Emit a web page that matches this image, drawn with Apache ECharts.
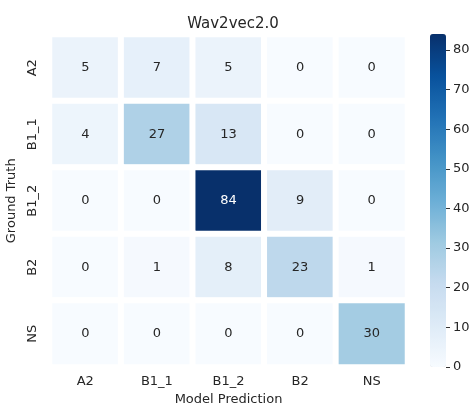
<!DOCTYPE html>
<html><head><meta charset="utf-8">
<script src="https://cdn.jsdelivr.net/npm/echarts@6/dist/echarts.min.js"></script>
<style>html,body{margin:0;padding:0;background:#fff}#c{width:476px;height:403px}</style>
</head><body><div id="c"></div>
<script>
const predCategories = ['A2', 'B1_1', 'B1_2', 'B2', 'NS'];
const truthCategories = ['A2', 'B1_1', 'B1_2', 'B2', 'NS'];
const rowA2   = [5, 7, 5, 0, 0];
const rowB1_1 = [4, 27, 13, 0, 0];
const rowB1_2 = [0, 0, 84, 9, 0];
const rowB2   = [0, 1, 8, 23, 1];
const rowNS   = [0, 0, 0, 0, 30];
const colorbarTicks = [0, 10, 20, 30, 40, 50, 60, 70, 80];
const colorMin = 0, colorMax = 84;

const rows = [rowA2, rowB1_1, rowB1_2, rowB2, rowNS];
const data = [];
rows.forEach((r, yi) => r.forEach((v, xi) => {
  data.push({value: [xi, yi, v], label: {color: v > 60 ? '#ffffff' : '#262626'}});
}));

const FONT = 'DejaVu Sans';
const FS = 13;
const chart = echarts.init(document.getElementById('c'), null, {renderer: 'canvas'});
chart.setOption({
  backgroundColor: '#ffffff',
  animation: false,
  textStyle: {fontFamily: FONT},
  title: {text: 'Wav2vec2.0', left: 228, top: 12, textAlign: 'center',
    textStyle: {fontFamily: FONT, fontSize: 15, fontWeight: 'normal', color: '#262626'}},
  grid: [
    {left: 49.5, top: 34.5, width: 358, height: 332.5, outerBoundsMode: 'none', containLabel: false},
    {left: 430, top: 34, width: 16, height: 333, outerBoundsMode: 'none', containLabel: false}
  ],
  xAxis: [
    {type: 'category', gridIndex: 0, data: predCategories, name: 'Model Prediction',
     nameLocation: 'middle', nameGap: 24,
     nameTextStyle: {fontFamily: FONT, fontSize: FS, color: '#262626'},
     axisLine: {show: false}, splitLine: {show: false},
     axisTick: {alignWithLabel: true, length: 4, lineStyle: {color: '#333'}},
     axisLabel: {fontFamily: FONT, fontSize: FS, color: '#262626', margin: 8}},
    {type: 'value', gridIndex: 1, show: false, min: 0, max: 1,
     axisLine: {show: false, onZero: false}, axisTick: {show: false}, axisLabel: {show: false}, splitLine: {show: false}}
  ],
  yAxis: [
    {type: 'category', gridIndex: 0, data: truthCategories, inverse: true, name: 'Ground Truth',
     nameLocation: 'middle', nameGap: 29, nameRotate: 90,
     nameTextStyle: {fontFamily: FONT, fontSize: FS, color: '#262626'},
     axisLine: {show: false}, splitLine: {show: false},
     axisTick: {alignWithLabel: true, length: 4, lineStyle: {color: '#333'}},
     axisLabel: {fontFamily: FONT, fontSize: FS, color: '#262626', rotate: 90, margin: 10}},
    {type: 'value', gridIndex: 1, min: colorMin, max: colorMax, position: 'right', z: 10,
     axisLine: {show: false, onZero: false}, splitLine: {show: false},
     axisTick: {show: true, length: 4, lineStyle: {color: '#333'}, customValues: colorbarTicks},
     axisLabel: {fontFamily: FONT, fontSize: FS, color: '#262626', margin: 7, customValues: colorbarTicks}}
  ],
  visualMap: {
    type: 'continuous', min: colorMin, max: colorMax, seriesIndex: 0,
    calculable: false, hoverLink: false, orient: 'vertical', left: 430, top: 34,
    itemWidth: 16, itemHeight: 333, padding: 0, showLabel: false,
    inRange: {color: ['#f7fbff', '#deebf7', '#c6dbef', '#9ecae1', '#6baed6', '#4292c6', '#2171b5', '#08519c', '#08306b']}
  },
  series: [{
    type: 'heatmap', xAxisIndex: 0, yAxisIndex: 0, data: data,
    itemStyle: {borderColor: '#ffffff', borderWidth: 6},
    label: {show: true, fontFamily: FONT, fontSize: FS},
    emphasis: {disabled: true}
  }]
});
</script></body></html>
